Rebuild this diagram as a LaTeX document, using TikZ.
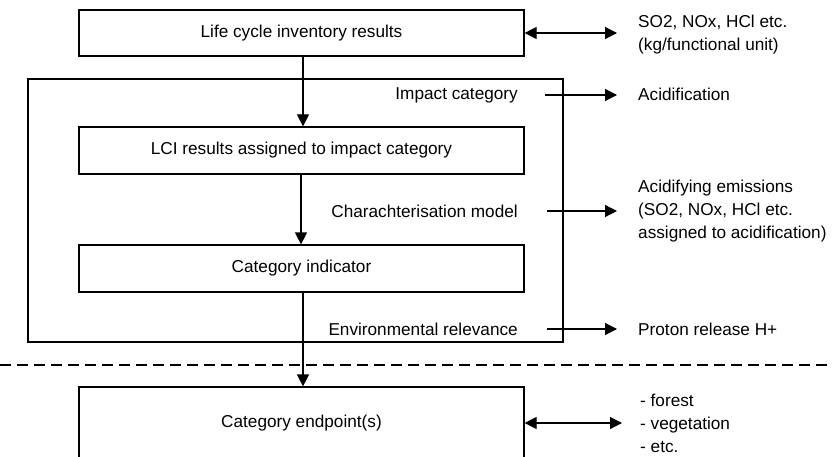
\documentclass[tikz,border=0pt]{standalone}
\usepackage{fontspec}
\setmainfont{Liberation Sans}
\usetikzlibrary{arrows.meta}
\begin{document}
\begin{tikzpicture}[x=1pt,y=-1pt,
  font=\fontsize{17.2}{23}\selectfont,
  every node/.style={inner sep=0pt},
  box/.style={draw,line width=1.2pt,minimum width=445pt,anchor=center},
  lbl/.style={anchor=east},
  rt/.style={anchor=west,align=left},
  conn/.style={line width=1.2pt,-{Triangle[length=12pt,width=12pt]}},
  dconn/.style={line width=1.2pt,{Triangle[length=12pt,width=12pt]}-{Triangle[length=12pt,width=12pt]}}]
\useasboundingbox (0,0) rectangle (832,457);
\fill[white] (0,0) rectangle (832,457);
% frame
\draw[line width=1.2pt] (28,79) rectangle (563,342);
% boxes
\node[box,minimum height=46pt] (lci) at (301.5,33) {Life cycle inventory results};
\node[box,minimum height=47pt] (assigned) at (301.5,150.5) {LCI results assigned to impact category};
\node[box,minimum height=47pt] (indicator) at (301.5,268.5) {Category indicator};
\node[box,minimum height=72pt] (endpoint) at (301.5,423) {Category endpoint(s)};
% dashed line
\draw[line width=1.2pt,dash pattern=on 11pt off 6pt] (0,365) -- (832,365);
% vertical arrows
\draw[conn] (lci.south -| 303,0) -- (assigned.north -| 303,0);
\draw[conn] (assigned.south -| 301,0) -- (indicator.north -| 301,0);
\draw[conn] (indicator.south -| 303,0) -- (endpoint.north -| 303,0);
% labels inside frame
\node[lbl] (impact) at (518,95) {Impact category};
\node[lbl] (charac) at (518,211) {Charachterisation model};
\node[lbl] (envrel) at (518,329) {Environmental relevance};
% right texts
\node[rt] (so2) at (638,35) {SO2, NOx, HCl etc.\\(kg/functional unit)};
\node[rt] (acid) at (638,94) {Acidification};
\node[rt] (emis) at (638,211) {Acidifying emissions\\(SO2, NOx, HCl etc.\\assigned to acidification)};
\node[rt] (proton) at (638,329) {Proton release H+};
\node[rt] (forest) at (640,423) {- forest\\- vegetation\\- etc.};
% coordinates
\coordinate (a1) at (545,95);
\coordinate (b1) at (617,95);
\coordinate (a2) at (547,211);
\coordinate (b2) at (617,211);
\coordinate (a3) at (547,329);
\coordinate (b3) at (617,329);
\coordinate (d1) at (617,33);
\coordinate (d2) at (622,423);
% horizontal arrows
\draw[conn] (a1) -- (b1);
\draw[conn] (a2) -- (b2);
\draw[conn] (a3) -- (b3);
\draw[dconn] (lci.east) -- (d1);
\draw[dconn] (endpoint.east) -- (d2);
\end{tikzpicture}
\end{document}
